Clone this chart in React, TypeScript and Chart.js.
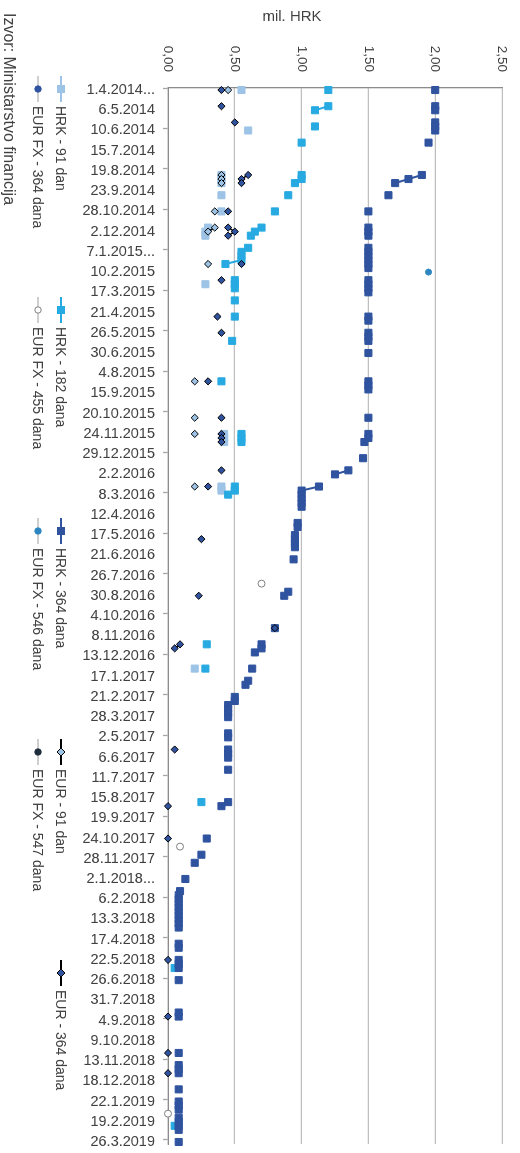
import React, { useEffect, useRef } from "react";
import { Chart, registerables } from "chart.js";

Chart.register(...registerables);

// ---------- DATA ----------
const tickLabels = [
  "1.4.2014...", "6.5.2014", "10.6.2014", "15.7.2014", "19.8.2014", "23.9.2014", "28.10.2014", "2.12.2014",
  "7.1.2015...", "10.2.2015", "17.3.2015", "21.4.2015", "26.5.2015", "30.6.2015", "4.8.2015", "15.9.2015",
  "20.10.2015", "24.11.2015", "29.12.2015", "2.2.2016", "8.3.2016", "12.4.2016", "17.5.2016", "21.6.2016",
  "26.7.2016", "30.8.2016", "4.10.2016", "8.11.2016", "13.12.2016", "17.1.2017", "21.2.2017", "28.3.2017",
  "2.5.2017", "6.6.2017", "11.7.2017", "15.8.2017", "19.9.2017", "24.10.2017", "28.11.2017", "2.1.2018...",
  "6.2.2018", "13.3.2018", "17.4.2018", "22.5.2018", "26.6.2018", "31.7.2018", "4.9.2018", "9.10.2018",
  "13.11.2018", "18.12.2018", "22.1.2019", "19.2.2019", "26.3.2019",
];
const categoryCount = 261; // weekly auction slots
const labelEvery = 5;

// [category index, mil. HRK]
const hrk91: [number, number][] = [
  [0, 0.55], [10, 0.6], [21, 0.4], [22, 0.4], [23, 0.4], [26, 0.4], [30, 0.4], [34, 0.3], [35, 0.28], [36, 0.28],
  [48, 0.28], [85, 0.42], [86, 0.42], [87, 0.42], [98, 0.4], [99, 0.4], [143, 0.2],
];
const hrk182: [number, number][] = [
  [0, 1.2], [4, 1.2], [5, 1.1], [9, 1.1], [13, 1.0], [21, 1.0], [22, 1.0], [23, 0.95], [26, 0.9], [30, 0.8],
  [34, 0.7], [35, 0.65], [36, 0.62], [39, 0.6], [40, 0.55], [41, 0.55], [42, 0.55], [43, 0.43], [47, 0.5],
  [48, 0.5], [49, 0.5], [52, 0.5], [56, 0.5], [62, 0.48], [72, 0.4], [85, 0.55], [86, 0.55], [87, 0.55],
  [98, 0.5], [99, 0.5], [100, 0.45], [137, 0.29], [143, 0.28], [176, 0.25], [217, 0.05], [256, 0.05],
];
const hrk364: [number, number][] = [
  [0, 2.0], [4, 2.0], [5, 2.0], [8, 2.0], [9, 2.0], [10, 2.0], [13, 1.95], [21, 1.9], [22, 1.8], [23, 1.7],
  [26, 1.65], [30, 1.5], [34, 1.5], [35, 1.5], [36, 1.5], [39, 1.5], [40, 1.5], [41, 1.5], [42, 1.5], [43, 1.5],
  [44, 1.5], [47, 1.5], [48, 1.5], [49, 1.5], [50, 1.5], [56, 1.5], [57, 1.5], [60, 1.5], [61, 1.5], [62, 1.5],
  [65, 1.5], [72, 1.5], [73, 1.5], [74, 1.5], [81, 1.5], [85, 1.5], [86, 1.5], [87, 1.47], [91, 1.46],
  [94, 1.35], [95, 1.25], [98, 1.13], [99, 1.0], [100, 1.0], [101, 1.0], [102, 1.0], [103, 1.0], [107, 0.97],
  [108, 0.97], [110, 0.95], [111, 0.95], [112, 0.95], [113, 0.95], [116, 0.94], [124, 0.9], [125, 0.87],
  [133, 0.8], [137, 0.7], [138, 0.7], [139, 0.65], [143, 0.63], [146, 0.6], [147, 0.58], [150, 0.5], [151, 0.5],
  [152, 0.45], [153, 0.45], [154, 0.45], [155, 0.45], [159, 0.45], [160, 0.45], [163, 0.45], [164, 0.45],
  [165, 0.45], [168, 0.45], [176, 0.45], [177, 0.4], [185, 0.29], [189, 0.25], [191, 0.2], [195, 0.13],
  [198, 0.09], [199, 0.08], [200, 0.08], [201, 0.08], [202, 0.08], [203, 0.08], [204, 0.08], [205, 0.08],
  [206, 0.08], [207, 0.08], [211, 0.08], [212, 0.08], [215, 0.08], [216, 0.08], [217, 0.08], [220, 0.08],
  [228, 0.08], [229, 0.08], [238, 0.08], [241, 0.08], [242, 0.08], [243, 0.08], [247, 0.08], [250, 0.08],
  [251, 0.08], [252, 0.08], [254, 0.08], [255, 0.08], [256, 0.08], [257, 0.08], [260, 0.08],
];
const eur91: [number, number][] = [
  [0, 0.45], [21, 0.4], [22, 0.4], [23, 0.4], [30, 0.35], [34, 0.35], [35, 0.3], [43, 0.3], [72, 0.2], [81, 0.2],
  [85, 0.2], [98, 0.2],
];
const eur364: [number, number][] = [
  [0, 0.4], [4, 0.4], [8, 0.5], [21, 0.6], [22, 0.55], [23, 0.55], [30, 0.45], [34, 0.45], [35, 0.5], [36, 0.45],
  [43, 0.55], [47, 0.4], [56, 0.37], [60, 0.4], [72, 0.3], [81, 0.4], [85, 0.4], [86, 0.4], [87, 0.4], [94, 0.4],
  [98, 0.3], [111, 0.25], [125, 0.23], [133, 0.8], [137, 0.09], [138, 0.05], [163, 0.05], [177, 0.0], [185, 0.0],
  [215, 0.0], [229, 0.0], [238, 0.0], [243, 0.0],
];
const eurFx364: [number, number][] = [];
const eurFx455: [number, number][] = [[122, 0.7], [187, 0.09], [253, 0.0]];
const eurFx546: [number, number][] = [[45, 1.95]];
const eurFx547: [number, number][] = [];

const yMin = 0;
const yMax = 2.5;
const yStep = 0.5;

// ---------- STYLES ----------
const FONT = '"Liberation Sans", Arial, sans-serif';
const TEXT = "#404040";
const LIGHT = "#9DC3E6";
const BRIGHT = "#27AAE1";
const DARK = "#2F539F";

type Kind = "rect" | "diamond" | "circle";
type SeriesDef = {
  label: string;
  points: [number, number][];
  kind: Kind;
  line: string;
  fill: string;
  stroke: string;
  radius: number;
  lineWidth: number;
};

const series: SeriesDef[] = [
  { label: "HRK - 91 dan", points: hrk91, kind: "rect", line: LIGHT, fill: LIGHT, stroke: LIGHT, radius: 5, lineWidth: 2 },
  { label: "HRK - 182 dana", points: hrk182, kind: "rect", line: BRIGHT, fill: BRIGHT, stroke: BRIGHT, radius: 5, lineWidth: 2 },
  { label: "HRK - 364 dana", points: hrk364, kind: "rect", line: DARK, fill: DARK, stroke: DARK, radius: 5, lineWidth: 2 },
  { label: "EUR - 91 dan", points: eur91, kind: "diamond", line: "#000000", fill: LIGHT, stroke: "#000000", radius: 3.6, lineWidth: 1.5 },
  { label: "EUR - 364 dana", points: eur364, kind: "diamond", line: "#000000", fill: DARK, stroke: "#000000", radius: 3.6, lineWidth: 1.5 },
  { label: "EUR FX - 364 dana", points: eurFx364, kind: "circle", line: "#BFBFBF", fill: DARK, stroke: DARK, radius: 3, lineWidth: 2 },
  { label: "EUR FX - 455 dana", points: eurFx455, kind: "circle", line: "#BFBFBF", fill: "#FFFFFF", stroke: "#7F7F7F", radius: 3.5, lineWidth: 2 },
  { label: "EUR FX - 546 dana", points: eurFx546, kind: "circle", line: "#BFBFBF", fill: "#2E86C1", stroke: "#2E86C1", radius: 3, lineWidth: 2 },
  { label: "EUR FX - 547 dana", points: eurFx547, kind: "circle", line: "#BFBFBF", fill: "#1F2D3D", stroke: "#1F2D3D", radius: 3, lineWidth: 2 },
];

// legend grid: row 1 = first five series, row 2 = EUR FX series
const legendRows = [[0, 1, 2, 3, 4], [5, 6, 7, 8]];
const legendRowY = [459, 482];
const legendColX0 = 89;
const legendColStep = 221;

const W = 1153;
const H = 520;

const categories = Array.from({ length: categoryCount }, (_, k) =>
  k % labelEvery === 0 ? tickLabels[k / labelEvery] : ""
);

function toSeries(pts: [number, number][]): (number | null)[] {
  const arr: (number | null)[] = new Array(categoryCount).fill(null);
  pts.forEach(([k, v]) => {
    arr[k] = v;
  });
  return arr;
}

const axisTitlePlugin = {
  id: "axisTitle",
  afterDraw(chart: any) {
    const ctx = chart.ctx;
    ctx.save();
    ctx.translate(17, 228);
    ctx.rotate(-Math.PI / 2);
    ctx.font = `15px ${FONT}`;
    ctx.fillStyle = TEXT;
    ctx.textAlign = "center";
    ctx.textBaseline = "middle";
    ctx.fillText("mil. HRK", 0, 0);
    ctx.restore();
  },
};

function LegendIcon({ s }: { s: SeriesDef }) {
  let marker: React.ReactNode;
  if (s.kind === "rect") {
    marker = <rect x={9.5} y={2.5} width={7} height={7} fill={s.fill} stroke={s.stroke} strokeWidth={1} />;
  } else if (s.kind === "diamond") {
    marker = <polygon points="13,2 17,6 13,10 9,6" fill={s.fill} stroke={s.stroke} strokeWidth={1} />;
  } else {
    marker = <circle cx={13} cy={6} r={3.2} fill={s.fill} stroke={s.stroke} strokeWidth={1} />;
  }
  return (
    <svg width={26} height={12} style={{ display: "block" }}>
      <line x1={0} y1={6} x2={26} y2={6} stroke={s.line} strokeWidth={s.kind === "circle" ? 1.5 : 2} />
      {marker}
    </svg>
  );
}

export default function App() {
  const canvasRef = useRef<HTMLCanvasElement | null>(null);

  useEffect(() => {
    if (!canvasRef.current) return;
    const n = series.length;
    const chart = new Chart(canvasRef.current, {
      type: "line",
      data: {
        labels: categories,
        datasets: series.map((s, i) => ({
          label: s.label,
          data: toSeries(s.points),
          borderColor: s.line,
          backgroundColor: s.fill,
          borderWidth: s.lineWidth,
          pointStyle: s.kind === "rect" ? "rect" : s.kind === "diamond" ? "rectRot" : "circle",
          pointRadius: s.radius,
          pointHoverRadius: s.radius,
          pointBackgroundColor: s.fill,
          pointBorderColor: s.stroke,
          pointBorderWidth: 1,
          spanGaps: false,
          clip: false as any,
          order: n - i,
          tension: 0,
        })),
      },
      options: {
        responsive: false,
        animation: false,
        layout: { padding: { top: 18, right: 9, bottom: 0, left: 0 } },
        plugins: { legend: { display: false }, tooltip: { enabled: false } },
        scales: {
          x: {
            type: "category",
            offset: true,
            grid: {
              drawOnChartArea: false,
              drawTicks: true,
              tickLength: 5,
              offset: true,
              tickWidth: 1.3,
              tickColor: (c: any) => (c.index % 10 === 0 ? "#A6A6A6" : "rgba(0,0,0,0)"),
            },
            border: { color: "#8C8C8C", width: 1.3 },
            ticks: {
              autoSkip: false,
              maxRotation: 90,
              minRotation: 90,
              padding: 8,
              color: TEXT,
              font: { family: FONT, size: 14.5 },
            },
            afterFit: (s: any) => {
              s.height = 168;
              s.paddingLeft = 0;
              s.paddingRight = 0;
            },
          },
          y: {
            min: yMin,
            max: yMax,
            ticks: {
              stepSize: yStep,
              padding: 16,
              color: TEXT,
              font: { family: FONT, size: 13.5 },
              callback: (v: any) => Number(v).toFixed(2).replace(".", ","),
            },
            grid: { color: "#BFBFBF", lineWidth: 1.3, drawTicks: false },
            border: { color: "#8C8C8C", width: 1.3 },
            afterFit: (s: any) => {
              s.width = 88;
              s.paddingTop = 0;
              s.paddingBottom = 0;
            },
          },
        },
      },
      plugins: [axisTitlePlugin],
    });
    return () => chart.destroy();
  }, []);

  return (
    <div
      style={{
        position: "fixed",
        left: 0,
        top: 0,
        width: W,
        height: H,
        transformOrigin: "0 0",
        transform: `translate(${H}px, 0px) rotate(90deg)`,
        background: "#ffffff",
        fontFamily: FONT,
      }}
    >
      <canvas ref={canvasRef} width={W} height={H} style={{ position: "absolute", left: 0, top: 0 }} />
      {legendRows.map((row, r) =>
        row.map((si, c) => {
          const s = series[si];
          const cx = legendColX0 + legendColStep * c;
          const cy = legendRowY[r];
          return (
            <div key={s.label}>
              <div style={{ position: "absolute", left: cx - 13, top: cy - 6 }}>
                <LegendIcon s={s} />
              </div>
              <div
                style={{
                  position: "absolute",
                  left: cx + 17,
                  top: cy - 8,
                  fontSize: 14,
                  lineHeight: "16px",
                  color: TEXT,
                  whiteSpace: "nowrap",
                }}
              >
                {s.label}
              </div>
            </div>
          );
        })
      )}
      <div
        style={{
          position: "absolute",
          left: 13,
          top: 502,
          fontSize: 16,
          lineHeight: "18px",
          color: TEXT,
          whiteSpace: "nowrap",
        }}
      >
        Izvor: Ministarstvo financija
      </div>
    </div>
  );
}
